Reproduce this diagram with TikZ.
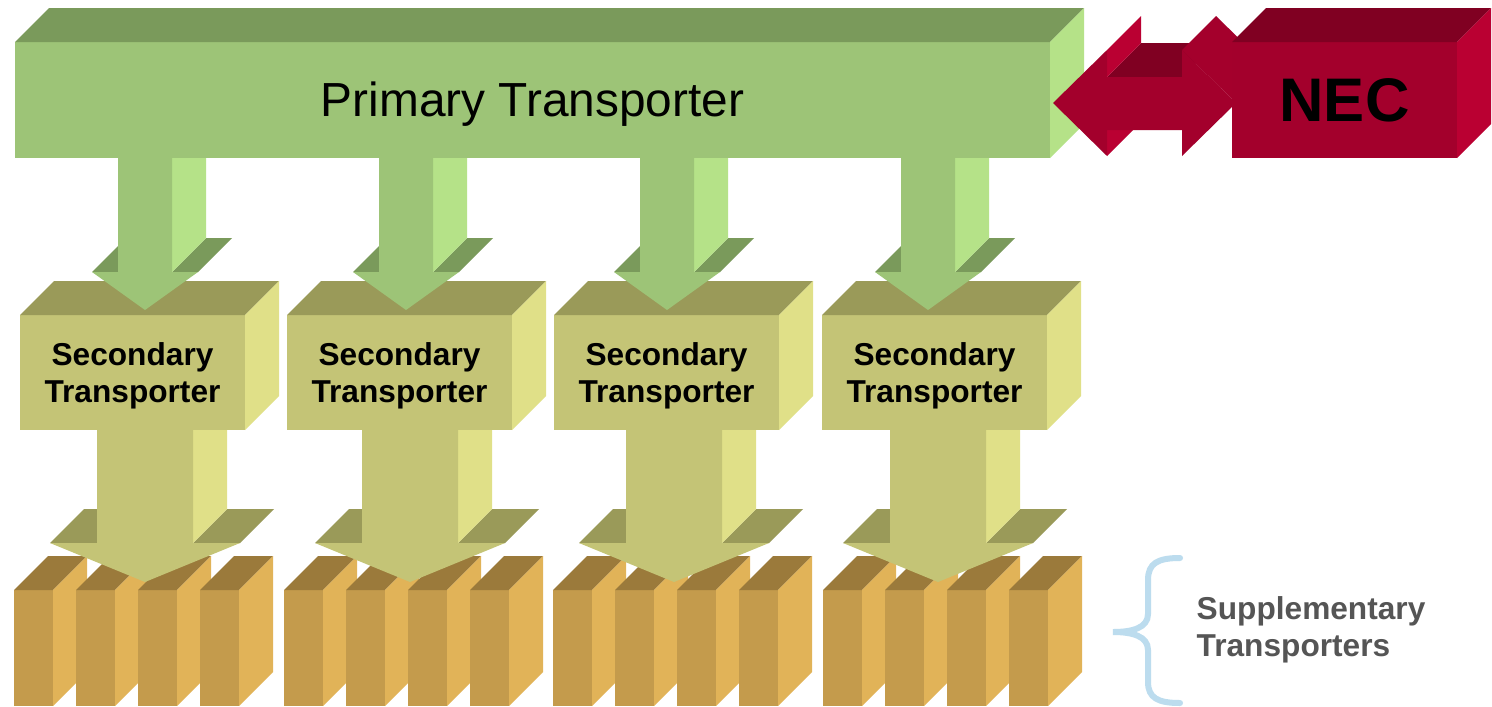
\documentclass[tikz,border=0pt]{standalone}
\usepackage{fontspec}
\setmainfont{Liberation Sans}
\usepackage{tikz}

\definecolor{grnF}{HTML}{9DC477}
\definecolor{grnT}{HTML}{7A9A5B}
\definecolor{grnS}{HTML}{B5E288}
\definecolor{olvF}{HTML}{C4C476}
\definecolor{olvT}{HTML}{9A9A59}
\definecolor{olvS}{HTML}{E0E088}
\definecolor{gldF}{HTML}{C49B4C}
\definecolor{gldT}{HTML}{9B7A3B}
\definecolor{gldS}{HTML}{E1B358}
\definecolor{redF}{HTML}{A3002C}
\definecolor{redT}{HTML}{800022}
\definecolor{redS}{HTML}{BA0032}
\definecolor{braceblue}{HTML}{BCDCEE}
\definecolor{labelgray}{HTML}{555555}

\newcommand{\dep}{34}
% x y w h front top side
\newcommand{\cuboid}[7]{%
	\fill[#5] ({#1},{#2}) rectangle ({#1+#3},{#2+#4});
	\fill[#6] ({#1},{#2}) -- ++(\dep,-\dep) -- ++(#3,0) -- ++(-\dep,\dep) -- cycle;
	\fill[#7] ({#1+#3},{#2}) -- ++(\dep,-\dep) -- ++(0,#4) -- ++(-\dep,\dep) -- cycle;
}
% centre y0 yshoulder ytip shaft head front top side
\newcommand{\downarr}[9]{%
	\fill[#8] ({#1-#6},{#3}) -- ++(\dep,-\dep) -- ({#1-#5+\dep},{#3-\dep}) -- ({#1-#5},{#3}) -- cycle;
	\fill[#8] ({#1+#5},{#3}) -- ++(\dep,-\dep) -- ({#1+#6+\dep},{#3-\dep}) -- ({#1+#6},{#3}) -- cycle;
	\fill[#9] ({#1+#5},{#2}) -- ++(\dep,-\dep) -- ({#1+#5+\dep},{#3-\dep}) -- ({#1+#5},{#3}) -- cycle;
	\fill[#7] ({#1-#5},{#2}) -- ({#1+#5},{#2}) -- ({#1+#5},{#3}) -- ({#1+#6},{#3})
		-- ({#1},{#4}) -- ({#1-#6},{#3}) -- ({#1-#5},{#3}) -- cycle;
}

\begin{document}
\begin{tikzpicture}[x=0.01cm, y=-0.01cm,
		primtext/.style={font=\fontsize{13.6}{16}\selectfont, inner sep=0pt},
		nectext/.style={font=\fontsize{17.5}{20}\selectfont\bfseries, inner sep=0pt},
		sectext/.style={font=\fontsize{9}{10.5}\selectfont\bfseries, align=center, inner sep=0pt},
		suptext/.style={font=\fontsize{9}{10.5}\selectfont\bfseries, align=left, text=labelgray, inner sep=0pt, anchor=west},
		brace/.style={draw=braceblue, line width=0.06cm, line cap=round}]
	\useasboundingbox (0,0) rectangle (1492,706);
	\fill[white] (0,0) rectangle (1492,706);

	\foreach \g in {14,284,553,823}
		\foreach \k in {0,62,124,186}
			{\cuboid{\g+\k}{590}{39}{116}{gldF}{gldT}{gldS}}

	\foreach \c in {145,410,674,938}
		{\downarr{\c}{420}{543}{582}{48}{95}{olvF}{olvT}{olvS}}

	\foreach \x/\n in {20/1,287/2,554/3,822/4} {
		\cuboid{\x}{315}{225}{115}{olvF}{olvT}{olvS}
		\node[sectext] (sec\n) at ({\x+112.5},376) {Secondary\\Transporter};
	}

	\foreach \c in {145,406,667,928}
		{\downarr{\c}{150}{272}{310}{27}{53}{grnF}{grnT}{grnS}}

	\cuboid{15}{42}{1035}{116}{grnF}{grnT}{grnS}
	\node[primtext] (prim) at (532.5,104) {Primary Transporter};

	\fill[redT] (1107,77) -- (1141,43) -- (1216,43) -- (1182,77) -- cycle;
	\fill[redS] (1107,50) -- (1141,16) -- (1141,43) -- (1107,77) -- cycle;
	\fill[redS] (1107,130) -- (1141,96) -- (1141,122) -- (1107,156) -- cycle;
	\fill[redF!95!redS] (1182,50) -- (1216,16) -- (1270,69) -- (1236,103) -- cycle;
	\fill[redF] (1053,103) -- (1107,50) -- (1107,77) -- (1182,77) -- (1182,50) -- (1236,103)
		-- (1182,156) -- (1182,130) -- (1107,130) -- (1107,156) -- cycle;

	\cuboid{1232}{42}{225}{116}{redF}{redT}{redS}
	\node[nectext] (nec) at (1344.5,100.5) {NEC};

	\coordinate (btop) at (1180,558);
	\coordinate (btip) at (1113,632);
	\coordinate (bbot) at (1180,703);
	\draw[brace] (btop) .. controls (1158,558) and (1148,563) .. (1148,580) -- (1148,614)
		.. controls (1148,628) and (1132,632) .. (btip)
		.. controls (1132,632) and (1148,636) .. (1148,650) -- (1148,682)
		.. controls (1148,698) and (1158,703) .. (bbot);
	\node[suptext] (supp) at (1196,630) {Supplementary\\Transporters};
\end{tikzpicture}
\end{document}
